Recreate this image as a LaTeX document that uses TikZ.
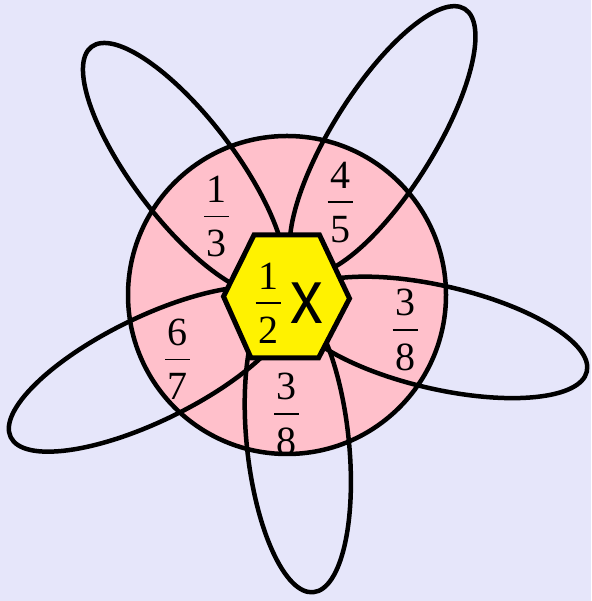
\documentclass[tikz,border=0pt]{standalone}
\usepackage{fontspec,graphicx}
\setmainfont{Liberation Serif}
\setsansfont{Liberation Sans}
\definecolor{lavbg}{RGB}{230,230,250}
\definecolor{petalpink}{RGB}{255,192,203}
\newcommand{\frc}[2]{\vbox{\offinterlineskip\halign{\hfil##\hfil\cr#1\cr\noalign{\kern13pt}\rule{25pt}{1.6pt}\cr\noalign{\kern13pt}#2\cr}}}

\begin{document}
\begin{tikzpicture}[x=1pt,y=1pt,line width=4.5pt,frac/.style={font=\fontsize{40}{48}\selectfont,inner sep=0pt}]
\useasboundingbox (0,0) rectangle (591,601);
\fill[lavbg] (0,0) rectangle (591,601);
\draw[fill=petalpink] (287,306) circle (159);
\foreach \cx/\cy/\ang/\ra/\rb in {184/432.3/127.2/153/51,382.6/460.6/58/155/51,438.7/263.6/-13/152/51.5,297.8/158/-84/150/51,150/231.8/206/155/52}{
\draw[rotate around={\ang:(\cx,\cy)}] (\cx,\cy) ellipse ({\ra pt} and {\rb pt});}
\draw[fill=yellow,line width=5pt] (223.5,304.5)--(254,366)--(319.5,366)--(349.5,302.5)--(318.5,243)--(251,243)--cycle;
\foreach \nm/\px/\py/\nu/\de in {third/216.7/384.3/1/3,fourfifth/340/398.7/4/5,rightpetal/405/271/3/8,lowpetal/286.7/187/3/8,sixseventh/177.8/242/6/7,half/268/297.7/1/2}{
\node[frac] (\nm) at (\px,\py) {\frc{\nu}{\de}};}
\node[inner sep=0pt,font=\fontsize{77}{80}\sffamily] (times) at (306.7,298) {\scalebox{0.85}[1]{x}};
\end{tikzpicture}
\end{document}
